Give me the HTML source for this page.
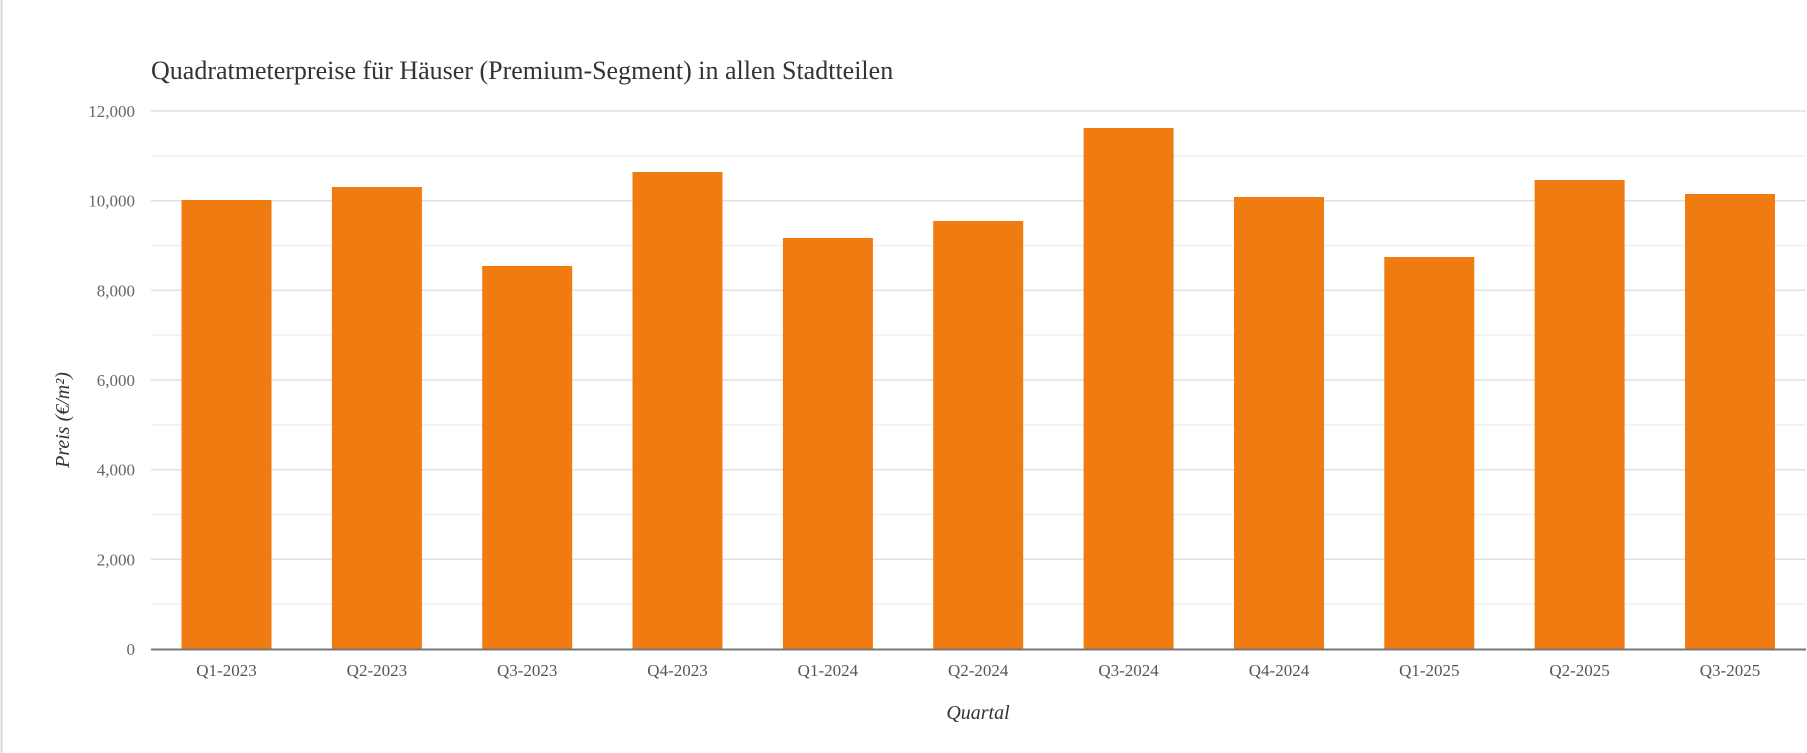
<!DOCTYPE html>
<html><head><meta charset="utf-8"><style>
html,body{margin:0;padding:0;background:#fff;}
svg{display:block;font-family:"Liberation Serif",serif;}
</style></head><body>
<svg width="1807" height="753" viewBox="0 0 1807 753">
<rect x="0" y="0" width="1807" height="753" fill="#fff"/>
<line x1="1.5" y1="0" x2="1.5" y2="753" stroke="#d8d8d8" stroke-width="2"/>
<text x="151" y="79" font-size="26" fill="#333">Quadratmeterpreise für Häuser (Premium-Segment) in allen Stadtteilen</text>
<g stroke="#f0f0f0" stroke-width="1.5">
<line x1="151" x2="1806" y1="155.8" y2="155.8"/><line x1="151" x2="1806" y1="245.5" y2="245.5"/>
<line x1="151" x2="1806" y1="335.1" y2="335.1"/><line x1="151" x2="1806" y1="424.8" y2="424.8"/>
<line x1="151" x2="1806" y1="514.5" y2="514.5"/><line x1="151" x2="1806" y1="604.2" y2="604.2"/>
</g>
<g stroke="#e0e0e0" stroke-width="1.5">
<line x1="151" x2="1806" y1="111" y2="111"/><line x1="151" x2="1806" y1="200.7" y2="200.7"/>
<line x1="151" x2="1806" y1="290.3" y2="290.3"/><line x1="151" x2="1806" y1="380" y2="380"/>
<line x1="151" x2="1806" y1="469.7" y2="469.7"/><line x1="151" x2="1806" y1="559.3" y2="559.3"/>
</g>
<g font-size="17" fill="#666" text-anchor="end">
<text x="135" y="117">12,000</text><text x="135" y="206.7">10,000</text>
<text x="135" y="296.3">8,000</text><text x="135" y="386">6,000</text>
<text x="135" y="475.7">4,000</text><text x="135" y="565.3">2,000</text>
<text x="135" y="655">0</text>
</g>
<g fill="#ef7b11">
<rect x="181.5" y="200" width="90" height="449"/>
<rect x="331.9" y="187" width="90" height="462"/>
<rect x="482.2" y="266" width="90" height="383"/>
<rect x="632.5" y="172" width="90" height="477"/>
<rect x="782.9" y="238" width="90" height="411"/>
<rect x="933.2" y="221" width="90" height="428"/>
<rect x="1083.6" y="128" width="90" height="521"/>
<rect x="1234" y="197" width="90" height="452"/>
<rect x="1384.3" y="257" width="90" height="392"/>
<rect x="1534.6" y="180" width="90" height="469"/>
<rect x="1685" y="194" width="90" height="455"/>
</g>
<line x1="151" x2="1806" y1="649.5" y2="649.5" stroke="#777" stroke-width="2"/>
<g font-size="17" fill="#555" text-anchor="middle">
<text x="226.5" y="676">Q1-2023</text><text x="376.9" y="676">Q2-2023</text>
<text x="527.2" y="676">Q3-2023</text><text x="677.5" y="676">Q4-2023</text>
<text x="827.9" y="676">Q1-2024</text><text x="978.2" y="676">Q2-2024</text>
<text x="1128.6" y="676">Q3-2024</text><text x="1279" y="676">Q4-2024</text>
<text x="1429.3" y="676">Q1-2025</text><text x="1579.6" y="676">Q2-2025</text>
<text x="1730" y="676">Q3-2025</text>
</g>
<text x="978" y="719" font-size="20" font-style="italic" fill="#333" text-anchor="middle">Quartal</text>
<text transform="translate(69,420) rotate(-90)" font-size="20" font-style="italic" fill="#333" text-anchor="middle">Preis (€/m²)</text>
</svg>
</body></html>
